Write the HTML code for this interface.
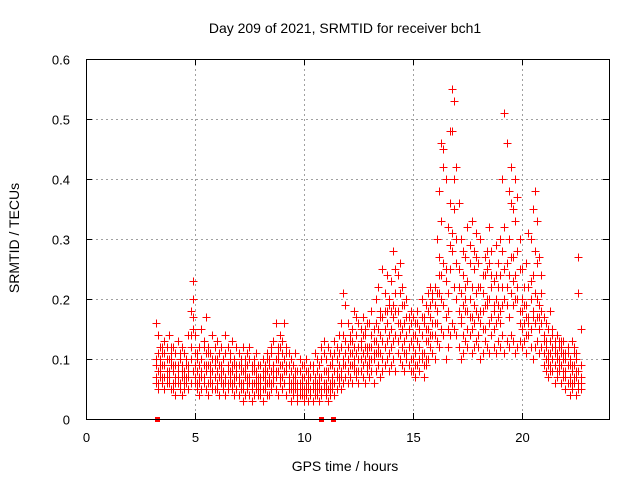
<!DOCTYPE html>
<html><head><meta charset="utf-8"><style>
html,body{margin:0;padding:0;background:#fff}
svg{display:block;font-family:"Liberation Sans",sans-serif}
</style></head><body>
<svg id="chart" width="640" height="480" viewBox="0 0 640 480" xmlns="http://www.w3.org/2000/svg">
<text x="345" y="33" font-size="14" text-anchor="middle">Day 209 of 2021, SRMTID for receiver bch1</text>
<text transform="translate(19,238) rotate(-90)" font-size="14" text-anchor="middle">SRMTID / TECUs</text>
<text x="345" y="471" font-size="14" text-anchor="middle">GPS time / hours</text>
<g id="grid"></g>
<g id="ticks"></g>
<g id="pts"></g>
<g id="gaps"></g>
<rect x="86.5" y="59.5" width="523" height="360" fill="none" stroke="#000" stroke-width="1"></rect>
</svg>
<script>
const xTicks=[0,5,10,15,20];
const yTicks=[0,0.1,0.2,0.3,0.4,0.5,0.6];
const yTickLabels=["0","0.1","0.2","0.3","0.4","0.5","0.6"];
const tStart=3.2, tStep=0.1;
const sA=[6,5,7,6,5,6,7,5, 5,4,6,5,4,5,6,5,6,8, 6,5,4,5,6,5,4,6,5,5, 5,4,6,5,4,5,6,5,4,5, 4,5,3,4,5,4,3,4,5,4, 4,3,5,4,4,5,6,5,4,6, 5,6,4,5,3,4,5,3,4,4, 3,4,3,4,3,4,5,3,4,5, 4,3,4,5,4,5,6,5,6,7, 6,7,6,8,7,6,8,7,6,8, 7,8,6,8,9,7,8,9,10,8, 9,10,8,11,10,9,8,10,9,8, 8,7,9,8,10,7,9,10,12,11, 10,13,12,15,14,10,12,14,16,15, 14,12,10,11,13,12,14,11,12,13, 12,10,11,13,12,11,14,12,11,13, 12,14,11,13,12,14,13,11,12,13, 12,13,11,14,12,10,12,13,11,12, 9,8,7,9,8,6,7,8,6,7, 5,6,4,5,6,4,5,6];
const sB=[9,8,10,12,9,8,10,11, 8,9,7,10,8,7,9,8,12,15, 9,8,7,10,9,8,9,8,10,9, 8,7,9,8,7,6,8,9,7,8, 7,8,6,7,9,7,6,8,7,6, 6,7,6,8,7,8,9,8,10,9, 9,10,8,7,6,7,6,5,6,7, 5,6,7,5,6,7,6,5,7,6, 6,7,6,7,8,7,9,8,10,11, 10,11,9,12,11,10,12,11,10,12, 10,12,11,13,12,14,13,15,16,14, 15,17,14,18,16,15,13,14,12,13, 12,11,13,12,14,11,13,15,17,16, 16,18,21,24,19,17,21,25,28,22, 20,18,17,19,22,18,20,17,19,21, 17,16,18,15,19,20,17,18,16,19, 18,22,20,19,24,21,23,20,22,18, 18,16,19,17,15,18,16,17,15,16, 13,12,11,13,10,11,10,12,11,10, 8,9,7,8,9,7,8,9];
const sC=[16,14,12,11,13,12,14,10, 12,11,13,10,12,11,10,14,18,23, 14,11,12,15,13,17,12,11,14,12, 13,11,12,10,14,12,11,13,10,12, 11,10,12,9,11,12,9,10,11,9, 9,10,8,11,10,12,13,16,12,14, 13,16,12,11,10,9,11,8,10,9, 9,10,8,9,8,11,10,9,12,13, 10,12,11,10,13,12,14,16,21,19, 16,14,15,18,17,16,15,17,14,16, 16,18,15,20,22,18,25,21,24,20, 23,28,25,24,26,22,19,20,17,18, 17,16,18,15,20,17,19,21,22,20, 22,30,38,46,45,40,32,48,55,53, 42,36,30,28,27,32,29,33,28,31, 26,30,24,27,25,32,28,23,29,26, 30,40,51,46,38,42,35,40,37,30, 25,22,26,31,30,35,38,33,27,24, 17,16,15,18,14,13,14,13,12,13, 11,12,10,13,11,10,27,15];
const sD=[7,11,8,9,7,10,8,9, 6,7,9,6,7,8,7,9,10,20, 7,10,6,8,7,11,6,9,8,7, 6,9,7,10,6,8,7,6,9,7, 6,9,5,8,6,10,5,6,8,5, 5,8,7,6,9,6,7,10,8,7, 7,8,11,6,5,6,8,6,5,6, 4,5,6,4,5,5,4,6,5,8, 5,8,5,9,6,10,7,12,9,13, 8,13,11,9,14,8,10,14,12,9, 9,14,10,11,15,11,17,12,18,11, 12,19,18,13,21,12,16,11,15,10, 10,14,9,15,11,16,10,13,19,14, 14,21,27,33,42,25,18,36,48,40, 26,25,21,24,18,23,26,22,25,27, 22,18,21,24,20,26,22,19,24,22, 24,28,32,26,30,36,27,33,28,25, 20,19,17,22,20,24,21,26,19,21, 11,10,9,11,12,9,8,10,9,8, 7,6,9,6,7,11,6,7];
const sE=[10,6,9,7,11,7,6,12, 9,6,8,11,9,6,10,7,14,17, 11,6,9,7,12,9,11,7,6,10, 10,7,8,6,11,9,10,8,6,9, 9,6,8,10,7,6,8,9,6,7, 7,5,9,10,6,11,8,7,11,12, 11,6,9,9,8,5,7,4,8,5, 7,8,5,7,9,6,8,7,10,11, 8,5,9,6,11,8,11,7,14,9, 12,9,13,10,8,12,13,9,15,11, 12,10,13,16,11,17,10,18,13,19, 18,13,21,16,14,19,11,17,12,16, 14,9,16,10,17,9,15,18,14,21, 19,16,24,20,26,23,15,29,31,35, 30,22,16,14,20,15,17,15,16,18, 14,22,15,19,28,16,24,15,20,17, 16,19,25,22,17,27,19,24,20,16, 15,13,14,16,23,17,28,20,17,18, 14,13,10,8,15,12,11,9,13,11, 10,11,6,9,12,8,21,5];
const gapTimes=[3.25,10.8,11.35];

const X0=86,X1=609,Y0=419,Y1=59,XMAX=24,YMAX=0.6;
const xs=t=>X0+(t/XMAX)*(X1-X0);
const ys=v=>Y0-(v/YMAX)*(Y0-Y1);
const NS="http://www.w3.org/2000/svg";
const grid=document.getElementById('grid'),ticks=document.getElementById('ticks');
function mk(tag,attrs,parent){const e=document.createElementNS(NS,tag);for(const k in attrs)e.setAttribute(k,attrs[k]);parent.appendChild(e);return e;}
xTicks.forEach(t=>{const x=Math.round(xs(t))+0.5;
 if(t>0){const g=mk('line',{x1:x,x2:x,y1:Y1,y2:Y0,stroke:'#a0a0a0','stroke-dasharray':'2,3'},grid);
 
 }
 const a=mk('line',{x1:x,x2:x,y1:Y0,y2:Y0-6,stroke:'#000'},ticks);
 
 
 const b=mk('line',{x1:x,x2:x,y1:Y1,y2:Y1+6,stroke:'#000'},ticks);
 
 
 const l=mk('text',{x:x,y:442,'font-size':13,'text-anchor':'middle'},ticks);l.textContent=String(t);
 
 
});
yTicks.forEach((v,i)=>{const y=Math.round(ys(v))+0.5;
 if(v>0&&v<YMAX){const g=mk('line',{x1:X0,x2:X1,y1:y,y2:y,stroke:'#a0a0a0','stroke-dasharray':'2,3'},grid);
 
 }
 const a=mk('line',{x1:X0,x2:X0+6,y1:y,y2:y,stroke:'#000'},ticks);
 
 
 const b=mk('line',{x1:X1,x2:X1-6,y1:y,y2:y,stroke:'#000'},ticks);
 
 
 const l=mk('text',{x:X0-16,y:y+5,'font-size':13,'text-anchor':'end'},ticks);l.textContent=yTickLabels[i];
 
 
});
const ptsG=document.getElementById('pts');
[sA,sB,sC,sD,sE].forEach(s=>s.forEach((v,i)=>{const x=Math.round(xs(tStart+i*tStep))+0.5,y=Math.round(ys(v/100))+0.5;
 const p=mk('path',{d:'M'+(x-4)+' '+y+'h8M'+x+' '+(y-4)+'v8',stroke:'#ff0000','stroke-width':1,fill:'none'},ptsG);
 
 }));
const gaps=document.getElementById('gaps');
gapTimes.forEach(t=>{const r=mk('rect',{x:Math.round(xs(t))-2,y:Y0-2,width:5,height:5,fill:'#ff0000'},gaps);
 
 });
</script>
</body></html>
